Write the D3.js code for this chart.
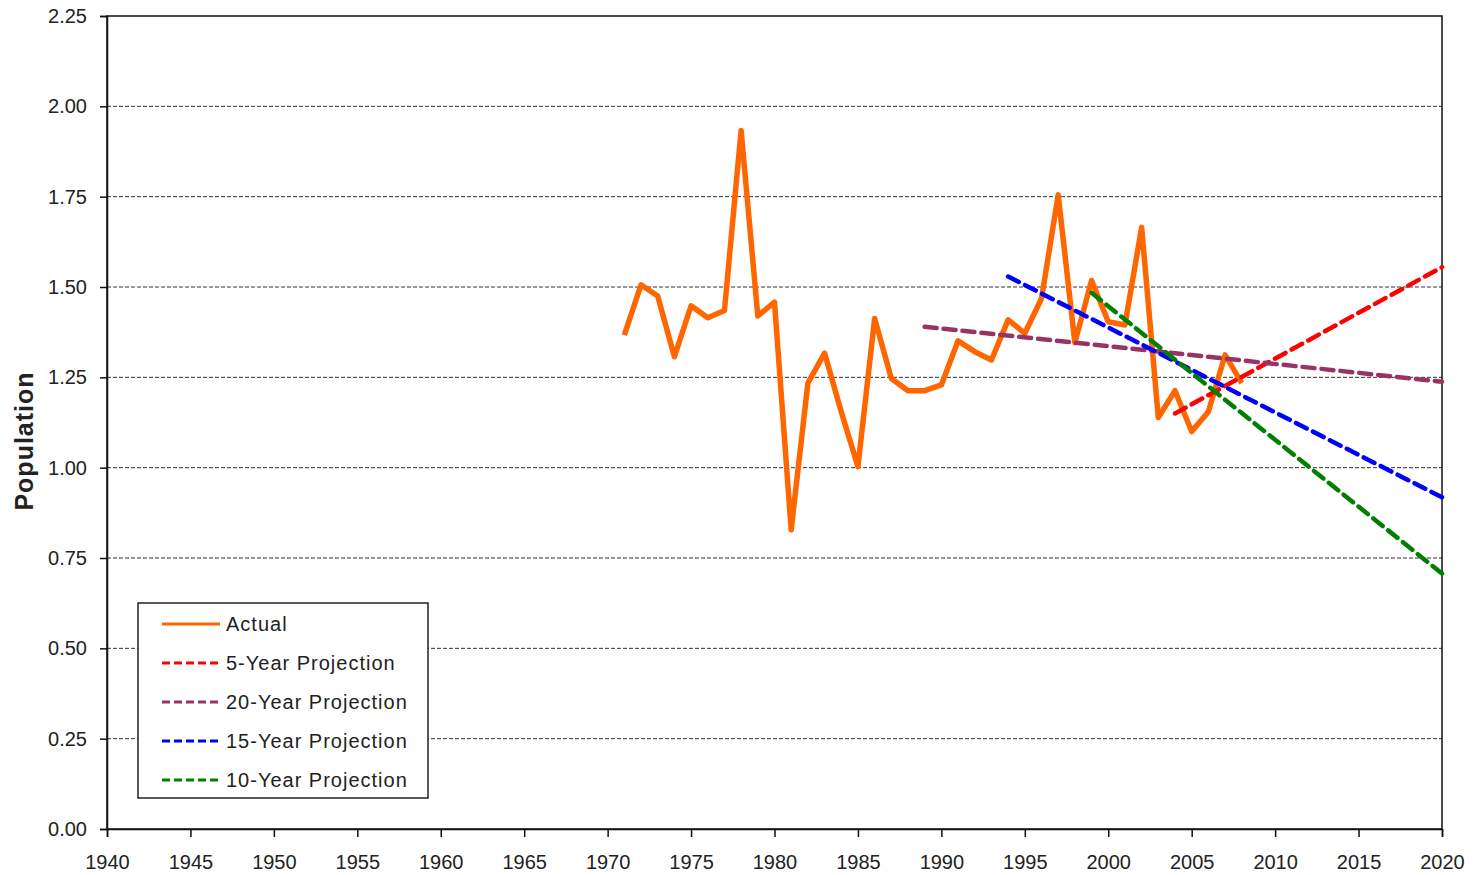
<!DOCTYPE html>
<html>
<head>
<meta charset="utf-8">
<script src="https://cdn.jsdelivr.net/npm/d3@7"></script>
<style>
body { margin: 0; background: #fff; }
text { font-family: "Liberation Sans", Arial, sans-serif; fill: #222; }
</style>
</head>
<body>
<div id="chart"></div>
<script>
// actual population by year
var years = [1971,1972,1973,1974,1975,1976,1977,1978,1979,1980,1981,1982,1983,1984,1985,1986,1987,1988,1989,1990,
	1991,1992,1993,1994,1995,1996,1997,1998,1999,2000,2001,2002,2003,2004,2005,2006,2007,2008];
var actual = [1.367,1.506,1.475,1.307,1.448,1.415,1.435,1.933,1.420,1.458,0.828,1.234,1.317,1.155,1.003,1.413,1.247,1.213,1.213,1.229,
	1.351,1.321,1.298,1.409,1.372,1.468,1.755,1.346,1.518,1.404,1.395,1.665,1.139,1.213,1.100,1.155,1.312,1.234];

// projection end points (start year, 2020)
var proj5Years = [2004, 2020], proj5 = [1.150, 1.555];
var proj20Years = [1989, 2020], proj20 = [1.390, 1.238];
var proj15Years = [1994, 2020], proj15 = [1.529, 0.918];
var proj10Years = [1999, 2020], proj10 = [1.484, 0.707];

var xTicks = d3.range(1940, 2021, 5);
var yTicks = [0, 0.25, 0.5, 0.75, 1.0, 1.25, 1.5, 1.75, 2.0, 2.25];

var svgWidth = 1474;
var svgHeight = 875;
var margin = {top: 16, right: 32, bottom: 46, left: 107};
var width = svgWidth - margin.left - margin.right;
var height = svgHeight - margin.top - margin.bottom;

var svg = d3.select("#chart").append("svg").attr("width", svgWidth).attr("height", svgHeight);
var chartGroup = svg.append("g").attr("transform", `translate(${margin.left}, ${margin.top})`);

var x = d3.scaleLinear().domain([1940, 2020]).range([0, width]);
var y = d3.scaleLinear().domain([0, 2.25]).range([height, 0]);

// gridlines
chartGroup.selectAll(".grid").data(yTicks.filter(d => d > 0 && d < 2.25)).enter().append("line")
	.attr("x1", 0).attr("x2", width)
	.attr("y1", d => y(d)).attr("y2", d => y(d))
	.attr("stroke", "#333").attr("stroke-width", 1).attr("stroke-dasharray", "4,2");

// frame
chartGroup.append("rect").attr("width", width).attr("height", height)
	.attr("fill", "none").attr("stroke", "#111").attr("stroke-width", 1.5);

var leftAxis = d3.axisLeft(y).tickValues(yTicks).tickFormat(d3.format(".2f")).tickSize(7).tickPadding(13);
var bottomAxis = d3.axisBottom(x).tickValues(xTicks).tickFormat(d3.format("d")).tickSize(8).tickPadding(18);

var ly = chartGroup.append("g").call(leftAxis);
var lx = chartGroup.append("g").attr("transform", `translate(0, ${height})`).call(bottomAxis);
[ly, lx].forEach(function(a) {
	a.select(".domain").attr("stroke", "#111").attr("stroke-width", 1.5);
	a.selectAll(".tick line").attr("stroke", "#111").attr("stroke-width", 1.5);
	a.selectAll(".tick text").style("font-size", "20px").attr("fill", "#222");
});

var line = d3.line().x(d => x(d[0])).y(d => y(d[1]));

chartGroup.append("path").datum(d3.zip(years, actual))
	.attr("d", line).attr("fill", "none").attr("stroke", "#FF6600")
	.attr("stroke-width", 5.5).attr("stroke-linejoin", "round");

var projections = [
	{name: "5-Year Projection", color: "#FF0000", yrs: proj5Years, vals: proj5},
	{name: "20-Year Projection", color: "#993366", yrs: proj20Years, vals: proj20},
	{name: "15-Year Projection", color: "#0000FF", yrs: proj15Years, vals: proj15},
	{name: "10-Year Projection", color: "#008000", yrs: proj10Years, vals: proj10}
];

projections.forEach(function(p) {
	chartGroup.append("path").datum(d3.zip(p.yrs, p.vals))
		.attr("d", line).attr("fill", "none").attr("stroke", p.color)
		.attr("stroke-width", 4.5).attr("stroke-dasharray", "12,7").attr("stroke-linecap", "round");
});

// y axis title
svg.append("text").attr("transform", "translate(33, 441) rotate(-90)")
	.attr("text-anchor", "middle").style("font-size", "25px").style("font-weight", "bold")
	.style("letter-spacing", "1px").attr("fill", "#111").text("Population");

// legend
var legend = svg.append("g").attr("transform", "translate(138, 603)");
legend.append("rect").attr("width", 290).attr("height", 195)
	.attr("fill", "#fff").attr("stroke", "#222").attr("stroke-width", 1.5);

var legendItems = [{name: "Actual", color: "#FF6600", dash: null}].concat(projections.map(p => ({name: p.name, color: p.color, dash: "8,4"})));
var items = legend.selectAll(".item").data(legendItems).enter().append("g")
	.attr("transform", (d, i) => `translate(0, ${21 + i * 39})`);
items.append("line").attr("x1", 24).attr("x2", 82).attr("y1", 0).attr("y2", 0)
	.attr("stroke", d => d.color).attr("stroke-width", 3)
	.attr("stroke-dasharray", d => d.dash);
items.append("text").attr("x", 88).attr("y", 7).style("font-size", "20px")
	.style("letter-spacing", "1px").text(d => d.name);
</script>
</body>
</html>
